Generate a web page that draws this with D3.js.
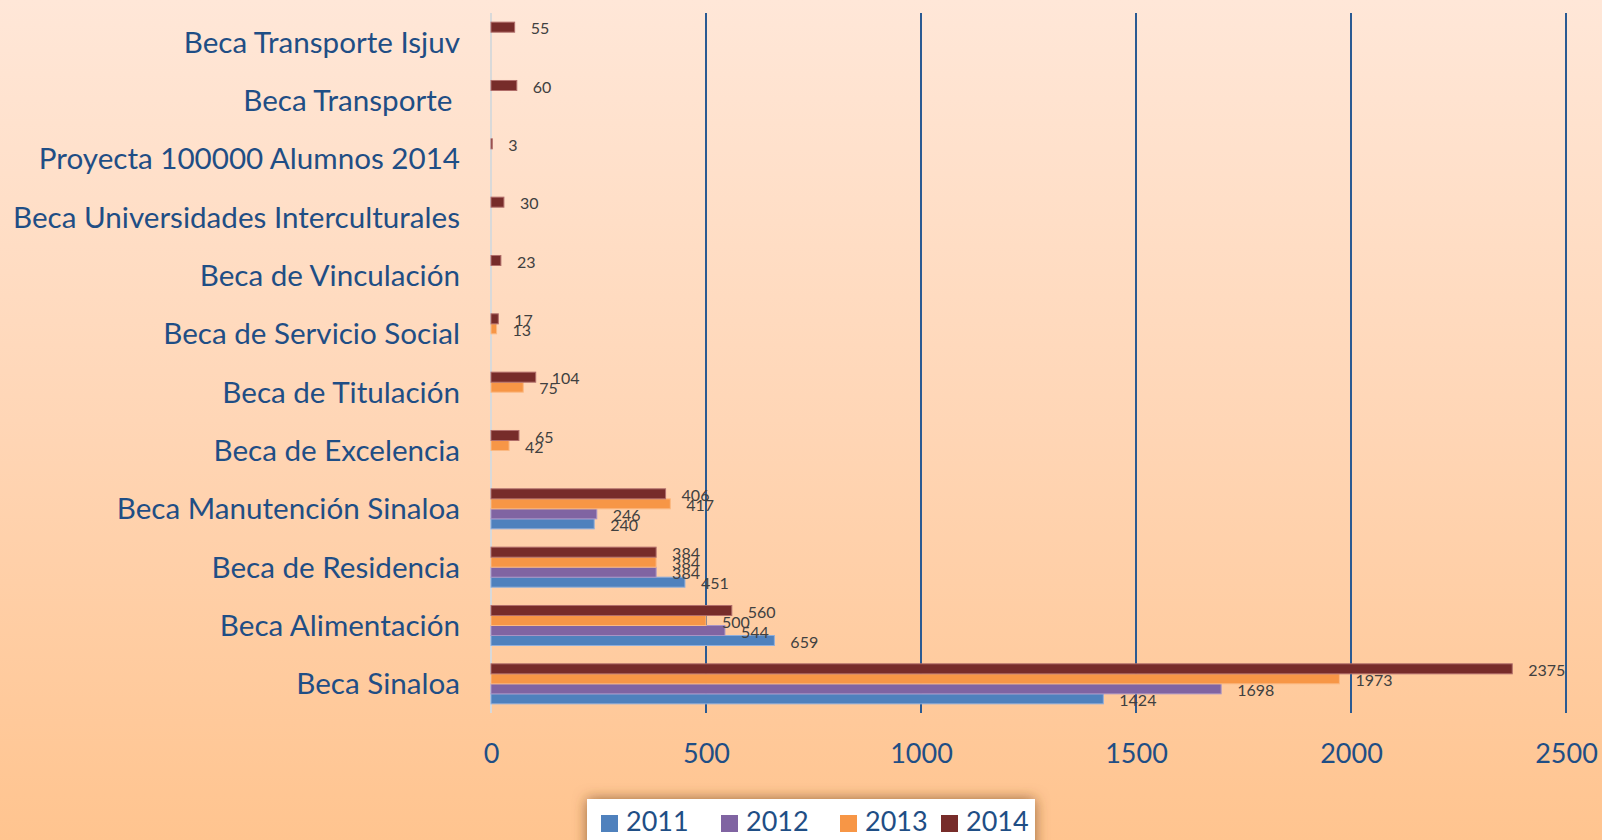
<!DOCTYPE html>
<html>
<head>
<meta charset="utf-8">
<script src="https://cdn.jsdelivr.net/npm/d3@7"></script>
<style>
  html, body { margin: 0; padding: 0; }
  body { width: 1602px; height: 840px; overflow: hidden; }
  svg { display: block; }
  text { font-family: Lato, "Open Sans", sans-serif; }
</style>
</head>
<body>
<svg id="chart" width="1602" height="840"></svg>
<script>
// Scholarship programmes, top to bottom as listed on the chart
const categories = [
  "Beca Transporte Isjuv",
  "Beca Transporte ",
  "Proyecta 100000 Alumnos 2014",
  "Beca Universidades Interculturales",
  "Beca de Vinculación",
  "Beca de Servicio Social",
  "Beca de Titulación",
  "Beca de Excelencia",
  "Beca Manutención Sinaloa",
  "Beca de Residencia",
  "Beca Alimentación",
  "Beca Sinaloa"
];

const years = ["2011", "2012", "2013", "2014"];

// Beneficiaries per programme (null = no data that year)
const values2011 = [null, null, null, null, null, null, null, null, 240, 451, 659, 1424];
const values2012 = [null, null, null, null, null, null, null, null, 246, 384, 544, 1698];
const values2013 = [null, null, null, null, null, 13, 75, 42, 417, 384, 500, 1973];
const values2014 = [55, 60, 3, 30, 23, 17, 104, 65, 406, 384, 560, 2375];

const xTicks = [0, 500, 1000, 1500, 2000, 2500];

const seriesColors = { "2011": "#4F81BD", "2012": "#8064A2", "2013": "#F79646", "2014": "#772C2A" };
const seriesStroke = { "2011": "#8FAEDB", "2012": "#A893C4", "2013": "#FBB983", "2014": "#B06D6A" };

const series = [
  { year: "2011", values: values2011 },
  { year: "2012", values: values2012 },
  { year: "2013", values: values2013 },
  { year: "2014", values: values2014 }
];

const svg = d3.select("#chart");
const W = 1602, H = 840;

// Background gradient
const defs = svg.append("defs");
const bg = defs.append("linearGradient").attr("id", "bg").attr("x1", 0).attr("y1", 0).attr("x2", 0).attr("y2", 1);
bg.append("stop").attr("offset", "0%").attr("stop-color", "#FFE7D8");
bg.append("stop").attr("offset", "50%").attr("stop-color", "#FFD6B6");
bg.append("stop").attr("offset", "100%").attr("stop-color", "#FFC48F");
svg.append("rect").attr("width", W).attr("height", H).attr("fill", "url(#bg)");

const shadow = defs.append("filter").attr("id", "shadow")
  .attr("x", "-20%").attr("y", "-60%").attr("width", "140%").attr("height", "220%");
shadow.append("feDropShadow").attr("dx", 0).attr("dy", 0).attr("stdDeviation", 7)
  .attr("flood-color", "#7A4A22").attr("flood-opacity", 0.75);

const plot = { left: 491, right: 1566, top: 13, bottom: 713 };

const x = d3.scaleLinear().domain([0, 2500]).range([plot.left, plot.right]);
const y = d3.scaleBand().domain(categories).range([plot.top, plot.bottom])
  .paddingInner(0.314).paddingOuter(0.157);
const yInner = d3.scaleBand().domain(years.slice().reverse()).range([0, y.bandwidth()]);

// Vertical gridlines
svg.append("g")
  .selectAll("line")
  .data(xTicks.filter(d => d > 0))
  .join("line")
  .attr("x1", d => x(d)).attr("x2", d => x(d))
  .attr("y1", plot.top).attr("y2", plot.bottom)
  .attr("stroke", "#2A5A92").attr("stroke-width", 2);

// Zero axis line
svg.append("line")
  .attr("x1", x(0)).attr("x2", x(0))
  .attr("y1", plot.top).attr("y2", plot.bottom)
  .attr("stroke", "#D9D9D9").attr("stroke-width", 2);

// Bars
const flat = [];
series.forEach(s => s.values.forEach((v, i) => {
  if (v !== null) flat.push({ year: s.year, cat: categories[i], value: v });
}));

svg.append("g")
  .selectAll("rect")
  .data(flat)
  .join("rect")
  .attr("x", x(0))
  .attr("y", d => y(d.cat) + yInner(d.year))
  .attr("width", d => x(d.value) - x(0))
  .attr("height", yInner.bandwidth())
  .attr("fill", d => seriesColors[d.year])
  .attr("stroke", d => seriesStroke[d.year])
  .attr("stroke-width", 1);

// Value labels
svg.append("g")
  .selectAll("text")
  .data(flat)
  .join("text")
  .attr("x", d => x(d.value) + 16)
  .attr("y", d => y(d.cat) + yInner(d.year) + yInner.bandwidth() / 2 + 3)
  .attr("dominant-baseline", "middle")
  .attr("font-size", 16)
  .attr("fill", "#404040")
  .text(d => d.value);

// Category labels
svg.append("g")
  .selectAll("text")
  .data(categories)
  .join("text")
  .attr("x", 460)
  .attr("y", d => y(d) + y.bandwidth() / 2 + 3)
  .attr("text-anchor", "end")
  .attr("dominant-baseline", "middle")
  .attr("font-size", 29.6)
  .attr("fill", "#1F4E85")
  .style("white-space", "pre")
  .text(d => d);

// X axis tick labels
const xAxis = d3.axisBottom(x).tickValues(xTicks).tickSize(0).tickPadding(0).tickFormat(d3.format("d"));
const gx = svg.append("g").attr("transform", `translate(0, 744)`).call(xAxis);
gx.select(".domain").remove();
gx.selectAll("text")
  .attr("font-family", "Lato, 'Open Sans', sans-serif")
  .attr("font-size", 27)
  .attr("fill", "#1F4E85");

// Legend
const legend = svg.append("g");
legend.append("rect")
  .attr("x", 587).attr("y", 799).attr("width", 448).attr("height", 60)
  .attr("fill", "#FFFFFF").attr("filter", "url(#shadow)");

const legendX = { "2011": 601, "2012": 721, "2013": 840, "2014": 941 };
const items = legend.selectAll("g.item").data(years).join("g").attr("class", "item");
items.append("rect")
  .attr("x", d => legendX[d]).attr("y", 815)
  .attr("width", 17).attr("height", 17)
  .attr("fill", d => seriesColors[d]);
items.append("text")
  .attr("x", d => legendX[d] + 25).attr("y", 831)
  .attr("font-size", 27)
  .attr("fill", "#1F4E85")
  .text(d => d);
</script>
</body>
</html>
